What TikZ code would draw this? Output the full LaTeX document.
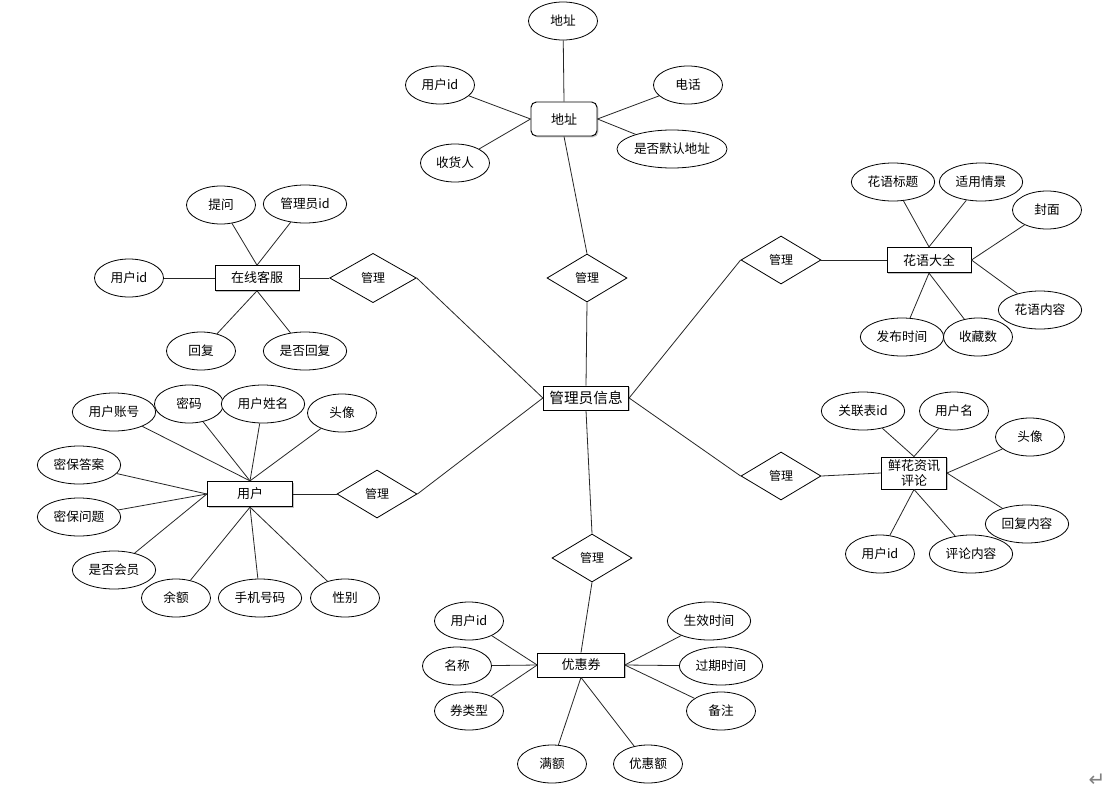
\documentclass[tikz,border=0pt]{standalone}
\usepackage{fontspec}
\setmainfont{Noto Sans CJK SC}
\newfontfamily\symfont{DejaVu Sans}
\usetikzlibrary{shapes.geometric,shadows}
\begin{document}
\begin{tikzpicture}[x=0.75pt,y=-0.75pt,
  lk/.style={draw=black!85,line width=0.6pt},
  attr/.style={ellipse,draw,line width=0.6pt,fill=white,inner sep=0pt,minimum width=51.75pt,minimum height=28.5pt,font=\fontsize{9.5}{11}\selectfont},
  attrw/.style={attr,minimum width=62.5pt},
  ent/.style={rectangle,draw,line width=0.7pt,fill=white,inner sep=0pt,minimum width=63pt,minimum height=18.5pt,font=\fontsize{9.75}{11}\selectfont,drop shadow={shadow xshift=1pt,shadow yshift=-1pt,fill=black!40,opacity=0.6}},
  rel/.style={diamond,draw,line width=0.6pt,fill=white,inner sep=0pt,minimum width=60pt,minimum height=36pt,font=\fontsize{9}{10}\selectfont}
]
\useasboundingbox[fill=white] (0,0) rectangle (1109,792);

% central entity
\node[ent,minimum width=64pt,minimum height=18pt,font=\fontsize{11}{12}\selectfont] (admin) at (586,398) {管理员信息};

% top group: address
\node[ent,rounded corners=4pt,minimum width=49.5pt,minimum height=25.5pt] (eaddr) at (564,119) {地址};
\node[attr] (aaddr) at (563,21) {地址};
\node[attr] (auid1) at (440,85) {用户id};
\node[attr] (atel) at (688,85) {电话};
\node[attr] (ashr) at (455,163) {收货人};
\node[attr,minimum width=82.5pt] (adef) at (672,149) {是否默认地址};
\node[rel] (dtop) at (587,278) {管理};
\draw[lk] (aaddr) -- (eaddr.north);
\draw[lk] (auid1) -- (eaddr.west);
\draw[lk] (ashr) -- (eaddr.west);
\draw[lk] (atel) -- (eaddr.east);
\draw[lk] (adef) -- (eaddr.east);
\draw[lk] (eaddr.south) -- (dtop.north);
\draw[lk] (dtop.south) -- (admin.north);

% online service
\node[ent] (ekf) at (257,278) {在线客服};
\node[attr] (atw) at (221,205) {提问};
\node[attrw] (agid) at (305,204) {管理员id};
\node[attr] (auid2) at (129,278) {用户id};
\node[attr] (ahf) at (201,351) {回复};
\node[attrw] (asfhf) at (305,351) {是否回复};
\node[rel,minimum width=65pt,minimum height=37pt] (dkf) at (373,278) {管理};
\draw[lk] (atw) -- (ekf.north);
\draw[lk] (agid) -- (ekf.north);
\draw[lk] (auid2) -- (ekf.west);
\draw[lk] (ahf) -- (ekf.south);
\draw[lk] (asfhf) -- (ekf.south);
\draw[lk] (ekf.east) -- (dkf.west);
\draw[lk] (dkf.east) -- (admin.west);

% user
\node[ent,minimum width=64pt,minimum height=19pt] (euser) at (250,494) {用户};
\node[attrw] (uzh) at (114,412) {用户账号};
\node[attr] (umm) at (189,404) {密码};
\node[attrw] (uxm) at (263,404) {用户姓名};
\node[attr] (utx) at (342,413) {头像};
\node[attrw] (uda) at (79,465) {密保答案};
\node[attrw] (uwt) at (79,517) {密保问题};
\node[attrw] (uhy) at (114,570) {是否会员};
\node[attr] (uye) at (176,598) {余额};
\node[attrw] (usj) at (260,598) {手机号码};
\node[attr] (uxb) at (345,598) {性别};
\node[rel] (duser) at (377,494) {管理};
\draw[lk] (uzh) -- (euser.north);
\draw[lk] (umm) -- (euser.north);
\draw[lk] (uxm) -- (euser.north);
\draw[lk] (utx) -- (euser.north);
\draw[lk] (uda) -- (euser.west);
\draw[lk] (uwt) -- (euser.west);
\draw[lk] (uhy) -- (euser.west);
\draw[lk] (uye) -- (euser.south);
\draw[lk] (usj) -- (euser.south);
\draw[lk] (uxb) -- (euser.south);
\draw[lk] (euser.east) -- (duser.west);
\draw[lk] (duser.east) -- (admin.west);

% flower language
\node[ent,minimum height=19pt] (ehy) at (929,260) {花语大全};
\node[attrw] (hbt) at (893,182) {花语标题};
\node[attrw] (hqj) at (981,182) {适用情景};
\node[attr] (hfm) at (1047,210) {封面};
\node[attrw] (hnr) at (1040,310) {花语内容};
\node[attrw] (hsj) at (902,337) {发布时间};
\node[attr] (hsc) at (978,337) {收藏数};
\node[rel] (dhy) at (781,260) {管理};
\draw[lk] (hbt) -- (ehy.north);
\draw[lk] (hqj) -- (ehy.north);
\draw[lk] (hfm) -- (ehy.east);
\draw[lk] (hnr) -- (ehy.east);
\draw[lk] (hsj) -- (ehy.south);
\draw[lk] (hsc) -- (ehy.south);
\draw[lk] (ehy.west) -- (dhy.east);
\draw[lk] (dhy.west) -- (admin.east);

% comments
\node[ent,minimum width=48.75pt,minimum height=24pt,align=center,font=\fontsize{9.75}{11.5}\selectfont] (epl) at (914,473) {鲜花资讯\\评论};
\node[attrw] (pgl) at (863,411) {关联表id};
\node[attr] (pyh) at (954,411) {用户名};
\node[attr] (ptx) at (1030,437) {头像};
\node[attrw] (phf) at (1027,524) {回复内容};
\node[attr] (puid) at (880,554) {用户id};
\node[attrw] (pnr) at (971,554) {评论内容};
\node[rel] (dpl) at (781,476) {管理};
\draw[lk] (pgl) -- (epl.north);
\draw[lk] (pyh) -- (epl.north);
\draw[lk] (ptx) -- (epl.east);
\draw[lk] (phf) -- (epl.east);
\draw[lk] (puid) -- (epl.south);
\draw[lk] (pnr) -- (epl.south);
\draw[lk] (epl.west) -- (dpl.east);
\draw[lk] (dpl.west) -- (admin.east);

% coupons
\node[ent,minimum width=65pt,minimum height=18pt] (eyh) at (581,665) {优惠券};
\node[rel] (dyh) at (592,558) {管理};
\node[attr] (yuid) at (469,621) {用户id};
\node[attr] (ymc) at (457,666) {名称};
\node[attr] (ylx) at (469,711) {券类型};
\node[attr] (yme) at (552,764) {满额};
\node[attr] (yyh) at (648,764) {优惠额};
\node[attrw] (ysx) at (709,621) {生效时间};
\node[attrw] (ygq) at (721,666) {过期时间};
\node[attr] (ybz) at (721,711) {备注};
\draw[lk] (admin.south) -- (dyh.north);
\draw[lk] (dyh.south) -- (eyh.north);
\draw[lk] (yuid) -- (eyh.west);
\draw[lk] (ymc) -- (eyh.west);
\draw[lk] (ylx) -- (eyh.west);
\draw[lk] (yme) -- (eyh.south);
\draw[lk] (yyh) -- (eyh.south);
\draw[lk] (ysx) -- (eyh.east);
\draw[lk] (ygq) -- (eyh.east);
\draw[lk] (ybz) -- (eyh.east);

\node[text=black!50,inner sep=0pt,font=\symfont\fontsize{15}{15}\selectfont] (ret) at (1097,780) {↵};
\end{tikzpicture}
\end{document}
